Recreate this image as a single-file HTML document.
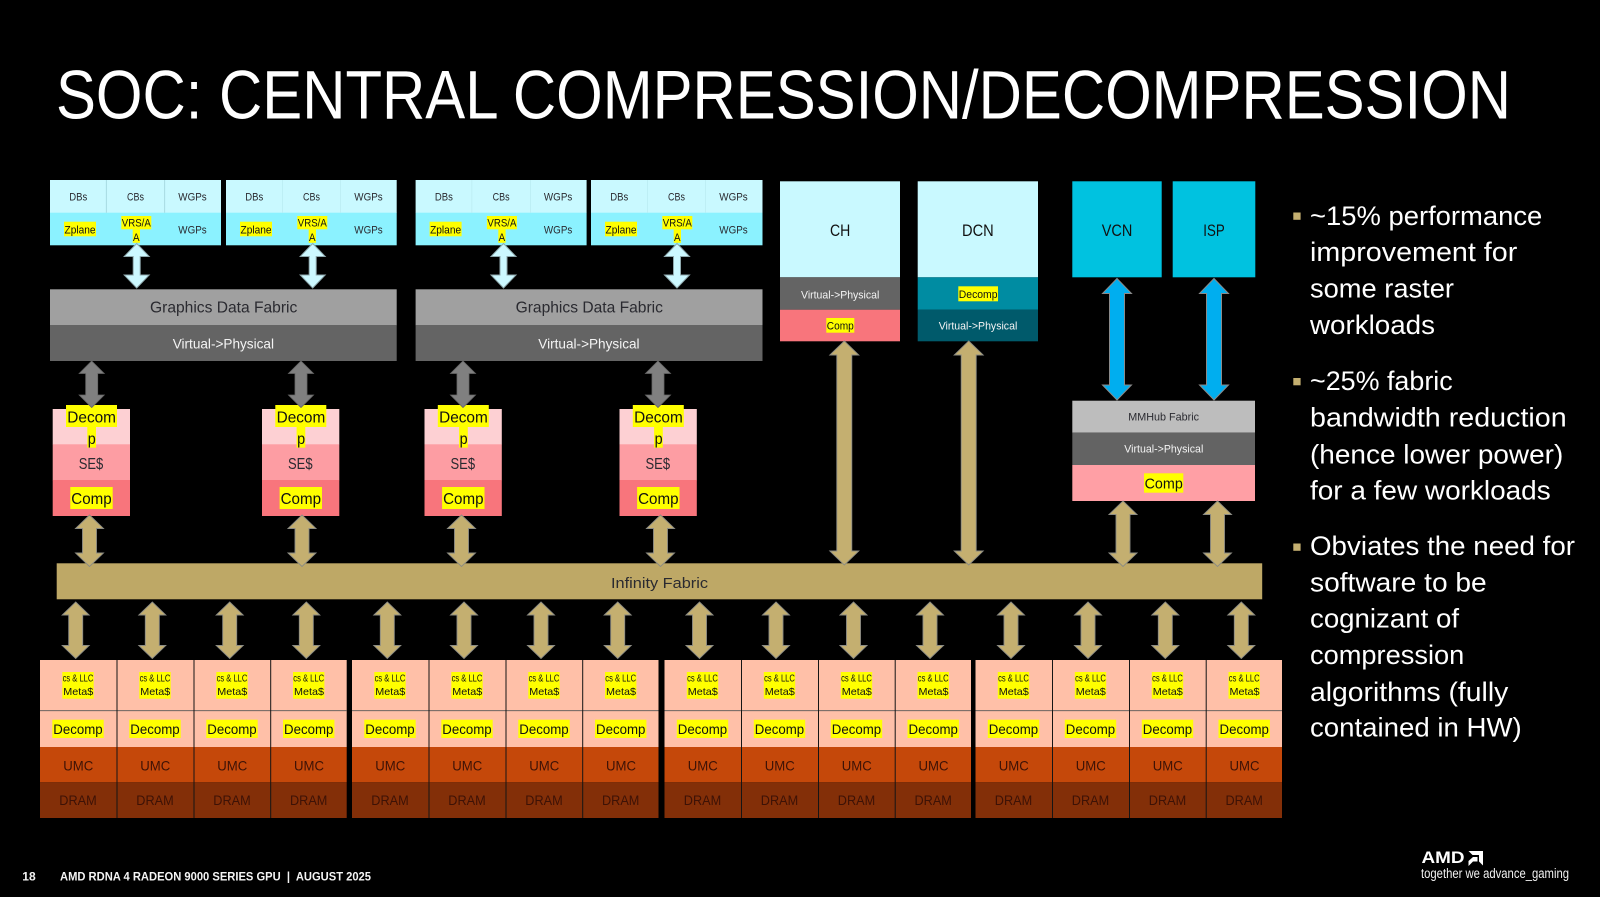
<!DOCTYPE html>
<html>
<head>
<meta charset="utf-8">
<title>SOC: Central Compression/Decompression</title>
<style>
html,body{margin:0;padding:0;background:#000;width:1600px;height:897px;overflow:hidden}
svg{display:block}
text{font-family:"Liberation Sans",sans-serif;white-space:pre}
.d{fill:#2a2a30}.w{fill:#f4f4f4}.k{fill:#111}
.s10{font-size:10.5px}.s11{font-size:11px}.s12{font-size:12px}.s14{font-size:14px}.s15{font-size:15px}.s16{font-size:16px}.s17{font-size:17px}
.b{font-size:27px;fill:#fff}
.u{fill:#3d1206;font-size:14px}
.sep{stroke:#151515;stroke-width:1}
</style>
</head>
<body>
<svg width="1600" height="897" viewBox="0 0 1600 897" xmlns="http://www.w3.org/2000/svg">
<defs>
<path id="aL" d="M0 243.500l12.500 13h-9V275h9L0 288l-12.500-13h9V256.500h-9z" fill="#CCF8FF" stroke="#8fa9ae" stroke-width="1"/>
<path id="aG" d="M0 361l12.500 12.500h-6.500V395h6.500L0 407.500l-12.500-12.500h6.500V373.500h-6.500z" fill="#808080" stroke="#666" stroke-width=".8"/>
<path id="aT" d="M0 515l14 13.500h-7V553h7L0 566.500l-14-13.500h7V528.500h-7z" fill="#C4AF70" stroke="#8c8c84" stroke-width=".9"/>
<path id="aB" d="M0 602l13.500 13h-6.500V645.500h6.500L0 658.500l-13.500-13h6.500V615h-6.500z" fill="#C4AF70" stroke="#8c8c84" stroke-width=".9"/>
<path id="aX" d="M0 341l14.500 14h-7V551h7L0 565l-14.500-14h7V355h-7z" fill="#C4AF70" stroke="#8c8c84" stroke-width=".9"/>
<path id="aU" d="M0 278.500l14.500 15h-7V385h7L0 400l-14.500-15h7V293.500h-7z" fill="#00AEEF" stroke="#8a8a8a" stroke-width="1"/>
<path id="aM" d="M0 501l14 13.500h-7V553h7L0 566.500l-14-13.500h7V514.500h-7z" fill="#C4AF70" stroke="#8c8c84" stroke-width=".9"/>
</defs>

<rect width="1600" height="897" fill="#000"/>

<text x="56" y="118.500" font-size="69" fill="#fff" textLength="1455" lengthAdjust="spacingAndGlyphs">SOC: CENTRAL COMPRESSION/DECOMPRESSION</text>

<!-- shader engine blocks -->
<g>
<rect x="50" y="180" width="171" height="33" fill="#C9F9FF"/><rect x="50" y="212.700" width="171" height="32.600" fill="#8BF2FF"/>
<path d="M106.300 180V212.700M164.700 180V212.700" stroke="#9fd3da" stroke-width=".8"/>
<text class="s11 d" x="69.300" y="200.700" textLength="18" lengthAdjust="spacingAndGlyphs">DBs</text>
<text class="s11 d" x="127" y="200.700" textLength="17" lengthAdjust="spacingAndGlyphs">CBs</text>
<text class="s11 d" x="178.300" y="200.700" textLength="28.400" lengthAdjust="spacingAndGlyphs">WGPs</text>
<rect x="64" y="221.700" width="32" height="14.600" fill="#ff0"/><text class="s11 k" x="64.500" y="233.300" textLength="31" lengthAdjust="spacingAndGlyphs">Zplane</text>
<rect x="121.300" y="216" width="30" height="13.300" fill="#ff0"/><text class="s11 k" x="121.800" y="226.700" textLength="29" lengthAdjust="spacingAndGlyphs">VRS/A</text>
<rect x="132.700" y="229.300" width="7.300" height="13.500" fill="#ff0"/><text class="s11 k" x="133" y="241" textLength="6.500" lengthAdjust="spacingAndGlyphs">A</text>
<text class="s11 d" x="178.300" y="233.300" textLength="28.400" lengthAdjust="spacingAndGlyphs">WGPs</text>
</g>
<g transform="translate(176 0)">
<rect x="50" y="180" width="170.700" height="33" fill="#C9F9FF"/><rect x="50" y="212.700" width="170.700" height="32.600" fill="#8BF2FF"/>
<path d="M106.300 180V212.700M164.700 180V212.700" stroke="#b6e8ee" stroke-width=".6"/>
<text class="s11 d" x="69.300" y="200.700" textLength="18" lengthAdjust="spacingAndGlyphs">DBs</text>
<text class="s11 d" x="127" y="200.700" textLength="17" lengthAdjust="spacingAndGlyphs">CBs</text>
<text class="s11 d" x="178.300" y="200.700" textLength="28.400" lengthAdjust="spacingAndGlyphs">WGPs</text>
<rect x="64" y="221.700" width="32" height="14.600" fill="#ff0"/><text class="s11 k" x="64.500" y="233.300" textLength="31" lengthAdjust="spacingAndGlyphs">Zplane</text>
<rect x="121.300" y="216" width="30" height="13.300" fill="#ff0"/><text class="s11 k" x="121.800" y="226.700" textLength="29" lengthAdjust="spacingAndGlyphs">VRS/A</text>
<rect x="132.700" y="229.300" width="7.300" height="13.500" fill="#ff0"/><text class="s11 k" x="133" y="241" textLength="6.500" lengthAdjust="spacingAndGlyphs">A</text>
<text class="s11 d" x="178.300" y="233.300" textLength="28.400" lengthAdjust="spacingAndGlyphs">WGPs</text>
</g>
<g transform="translate(365.600 0)">
<rect x="50" y="180" width="171" height="33" fill="#C9F9FF"/><rect x="50" y="212.700" width="171" height="32.600" fill="#8BF2FF"/>
<path d="M106.300 180V212.700M164.700 180V212.700" stroke="#b6e8ee" stroke-width=".6"/>
<text class="s11 d" x="69.300" y="200.700" textLength="18" lengthAdjust="spacingAndGlyphs">DBs</text>
<text class="s11 d" x="127" y="200.700" textLength="17" lengthAdjust="spacingAndGlyphs">CBs</text>
<text class="s11 d" x="178.300" y="200.700" textLength="28.400" lengthAdjust="spacingAndGlyphs">WGPs</text>
<rect x="64" y="221.700" width="32" height="14.600" fill="#ff0"/><text class="s11 k" x="64.500" y="233.300" textLength="31" lengthAdjust="spacingAndGlyphs">Zplane</text>
<rect x="121.300" y="216" width="30" height="13.300" fill="#ff0"/><text class="s11 k" x="121.800" y="226.700" textLength="29" lengthAdjust="spacingAndGlyphs">VRS/A</text>
<rect x="132.700" y="229.300" width="7.300" height="13.500" fill="#ff0"/><text class="s11 k" x="133" y="241" textLength="6.500" lengthAdjust="spacingAndGlyphs">A</text>
<text class="s11 d" x="178.300" y="233.300" textLength="28.400" lengthAdjust="spacingAndGlyphs">WGPs</text>
</g>
<g transform="translate(541 0)">
<rect x="50" y="180" width="171.500" height="33" fill="#C9F9FF"/><rect x="50" y="212.700" width="171.500" height="32.600" fill="#8BF2FF"/>
<path d="M106.300 180V212.700M164.700 180V212.700" stroke="#b6e8ee" stroke-width=".6"/>
<text class="s11 d" x="69.300" y="200.700" textLength="18" lengthAdjust="spacingAndGlyphs">DBs</text>
<text class="s11 d" x="127" y="200.700" textLength="17" lengthAdjust="spacingAndGlyphs">CBs</text>
<text class="s11 d" x="178.300" y="200.700" textLength="28.400" lengthAdjust="spacingAndGlyphs">WGPs</text>
<rect x="64" y="221.700" width="32" height="14.600" fill="#ff0"/><text class="s11 k" x="64.500" y="233.300" textLength="31" lengthAdjust="spacingAndGlyphs">Zplane</text>
<rect x="121.300" y="216" width="30" height="13.300" fill="#ff0"/><text class="s11 k" x="121.800" y="226.700" textLength="29" lengthAdjust="spacingAndGlyphs">VRS/A</text>
<rect x="132.700" y="229.300" width="7.300" height="13.500" fill="#ff0"/><text class="s11 k" x="133" y="241" textLength="6.500" lengthAdjust="spacingAndGlyphs">A</text>
<text class="s11 d" x="178.300" y="233.300" textLength="28.400" lengthAdjust="spacingAndGlyphs">WGPs</text>
</g>

<!-- graphics data fabrics -->
<g>
<rect x="50" y="289.300" width="346.700" height="36" fill="#A0A0A0"/><rect x="50" y="325" width="346.700" height="36" fill="#646464"/>
<text class="s16 d" x="150" y="312.700" textLength="147.300" lengthAdjust="spacingAndGlyphs">Graphics Data Fabric</text>
<text class="s14 w" x="172.700" y="348.300" textLength="101.300" lengthAdjust="spacingAndGlyphs">Virtual-&gt;Physical</text>
</g>
<g transform="translate(365.600 0)">
<rect x="50" y="289.300" width="346.900" height="36" fill="#A0A0A0"/><rect x="50" y="325" width="346.900" height="36" fill="#646464"/>
<text class="s16 d" x="150" y="312.700" textLength="147.300" lengthAdjust="spacingAndGlyphs">Graphics Data Fabric</text>
<text class="s14 w" x="172.700" y="348.300" textLength="101.300" lengthAdjust="spacingAndGlyphs">Virtual-&gt;Physical</text>
</g>

<!-- SE$ stacks -->
<g>
<rect x="52.700" y="409" width="77.300" height="35.500" fill="#FDD0D3"/><rect x="52.700" y="444.300" width="77.300" height="36" fill="#FD9DA3"/><rect x="52.700" y="480" width="77.300" height="36" fill="#F8757C"/>
<rect x="66" y="405" width="51" height="22" fill="#ff0"/><rect x="87.300" y="427" width="8.700" height="20.700" fill="#ff0"/>
<text class="s16 k" x="67.300" y="422.300" textLength="48.700" lengthAdjust="spacingAndGlyphs">Decom</text><text class="s16 k" x="87.800" y="444" textLength="8" lengthAdjust="spacingAndGlyphs">p</text>
<text class="s16 d" x="78.700" y="469" textLength="24.600" lengthAdjust="spacingAndGlyphs">SE$</text>
<rect x="70.300" y="487" width="42.400" height="22" fill="#ff0"/><text class="s16 k" x="71.300" y="504" textLength="40.400" lengthAdjust="spacingAndGlyphs">Comp</text>
</g>
<g transform="translate(209.300 0)">
<rect x="52.700" y="409" width="77.300" height="35.500" fill="#FDD0D3"/><rect x="52.700" y="444.300" width="77.300" height="36" fill="#FD9DA3"/><rect x="52.700" y="480" width="77.300" height="36" fill="#F8757C"/>
<rect x="66" y="405" width="51" height="22" fill="#ff0"/><rect x="87.300" y="427" width="8.700" height="20.700" fill="#ff0"/>
<text class="s16 k" x="67.300" y="422.300" textLength="48.700" lengthAdjust="spacingAndGlyphs">Decom</text><text class="s16 k" x="87.800" y="444" textLength="8" lengthAdjust="spacingAndGlyphs">p</text>
<text class="s16 d" x="78.700" y="469" textLength="24.600" lengthAdjust="spacingAndGlyphs">SE$</text>
<rect x="70.300" y="487" width="42.400" height="22" fill="#ff0"/><text class="s16 k" x="71.300" y="504" textLength="40.400" lengthAdjust="spacingAndGlyphs">Comp</text>
</g>
<g transform="translate(371.800 0)">
<rect x="52.700" y="409" width="77.300" height="35.500" fill="#FDD0D3"/><rect x="52.700" y="444.300" width="77.300" height="36" fill="#FD9DA3"/><rect x="52.700" y="480" width="77.300" height="36" fill="#F8757C"/>
<rect x="66" y="405" width="51" height="22" fill="#ff0"/><rect x="87.300" y="427" width="8.700" height="20.700" fill="#ff0"/>
<text class="s16 k" x="67.300" y="422.300" textLength="48.700" lengthAdjust="spacingAndGlyphs">Decom</text><text class="s16 k" x="87.800" y="444" textLength="8" lengthAdjust="spacingAndGlyphs">p</text>
<text class="s16 d" x="78.700" y="469" textLength="24.600" lengthAdjust="spacingAndGlyphs">SE$</text>
<rect x="70.300" y="487" width="42.400" height="22" fill="#ff0"/><text class="s16 k" x="71.300" y="504" textLength="40.400" lengthAdjust="spacingAndGlyphs">Comp</text>
</g>
<g transform="translate(566.800 0)">
<rect x="52.700" y="409" width="77.300" height="35.500" fill="#FDD0D3"/><rect x="52.700" y="444.300" width="77.300" height="36" fill="#FD9DA3"/><rect x="52.700" y="480" width="77.300" height="36" fill="#F8757C"/>
<rect x="66" y="405" width="51" height="22" fill="#ff0"/><rect x="87.300" y="427" width="8.700" height="20.700" fill="#ff0"/>
<text class="s16 k" x="67.300" y="422.300" textLength="48.700" lengthAdjust="spacingAndGlyphs">Decom</text><text class="s16 k" x="87.800" y="444" textLength="8" lengthAdjust="spacingAndGlyphs">p</text>
<text class="s16 d" x="78.700" y="469" textLength="24.600" lengthAdjust="spacingAndGlyphs">SE$</text>
<rect x="70.300" y="487" width="42.400" height="22" fill="#ff0"/><text class="s16 k" x="71.300" y="504" textLength="40.400" lengthAdjust="spacingAndGlyphs">Comp</text>
</g>

<!-- CH -->
<rect x="780" y="181.300" width="120" height="96" fill="#C9F9FF"/>
<rect x="780" y="277.300" width="120" height="32.500" fill="#646464"/>
<rect x="780" y="309.700" width="120" height="31.600" fill="#F8757C"/>
<text class="s17 k" x="830" y="236" textLength="20.300" lengthAdjust="spacingAndGlyphs">CH</text>
<text class="s11 w" x="801" y="298.300" textLength="78.300" lengthAdjust="spacingAndGlyphs">Virtual-&gt;Physical</text>
<rect x="826.300" y="318" width="28" height="14.700" fill="#ff0"/><text class="s11 k" x="826.800" y="329.300" textLength="27" lengthAdjust="spacingAndGlyphs">Comp</text>
<!-- DCN -->
<rect x="917.700" y="181.300" width="120.300" height="96" fill="#C9F9FF"/>
<rect x="917.700" y="277.300" width="120.300" height="32.500" fill="#008CA2"/>
<rect x="917.700" y="309.700" width="120.300" height="31.600" fill="#005A6B"/>
<text class="s17 k" x="962" y="236" textLength="31.700" lengthAdjust="spacingAndGlyphs">DCN</text>
<rect x="958.300" y="286.300" width="39.700" height="15" fill="#ff0"/><text class="s11 k" x="958.800" y="298" textLength="38.700" lengthAdjust="spacingAndGlyphs">Decomp</text>
<text class="s11 w" x="938.700" y="329.300" textLength="78.600" lengthAdjust="spacingAndGlyphs">Virtual-&gt;Physical</text>
<!-- VCN ISP -->
<rect x="1072.300" y="181.300" width="89.400" height="96" fill="#00C2E0"/>
<rect x="1172.700" y="181.300" width="82.600" height="96" fill="#00C2E0"/>
<text class="s17 k" x="1101.700" y="236" textLength="30.600" lengthAdjust="spacingAndGlyphs">VCN</text>
<text class="s17 k" x="1203.300" y="236" textLength="21.400" lengthAdjust="spacingAndGlyphs">ISP</text>
<!-- MMHub -->
<rect x="1072.300" y="400.700" width="182.700" height="32" fill="#BDBDBD"/>
<rect x="1072.300" y="432.700" width="182.700" height="32.300" fill="#636363"/>
<rect x="1072.300" y="465" width="182.700" height="36" fill="#FF9FA5"/>
<text class="s11 d" x="1128.300" y="420.700" textLength="70.700" lengthAdjust="spacingAndGlyphs">MMHub Fabric</text>
<text class="s11 w" x="1124.300" y="452.700" textLength="79" lengthAdjust="spacingAndGlyphs">Virtual-&gt;Physical</text>
<rect x="1144" y="473.300" width="39.300" height="19.400" fill="#ff0"/><text class="s15 k" x="1144.600" y="488.300" textLength="38.200" lengthAdjust="spacingAndGlyphs">Comp</text>

<!-- Infinity Fabric -->
<rect x="56.700" y="563.300" width="1205.500" height="36" fill="#BEA866"/>
<text class="s15 d" x="611" y="588" textLength="97" lengthAdjust="spacingAndGlyphs">Infinity Fabric</text>

<!-- memory column backgrounds -->
<g>
<rect x="40" y="660" width="306.700" height="87" fill="#FFC0A8"/><rect x="40" y="747" width="306.700" height="35.300" fill="#C5480A"/><rect x="40" y="782.300" width="306.700" height="35.700" fill="#832F08"/>
<rect x="352" y="660" width="306.500" height="87" fill="#FFC0A8"/><rect x="352" y="747" width="306.500" height="35.300" fill="#C5480A"/><rect x="352" y="782.300" width="306.500" height="35.700" fill="#832F08"/>
<rect x="664.500" y="660" width="306.500" height="87" fill="#FFC0A8"/><rect x="664.500" y="747" width="306.500" height="35.300" fill="#C5480A"/><rect x="664.500" y="782.300" width="306.500" height="35.700" fill="#832F08"/>
<rect x="975.500" y="660" width="306.500" height="87" fill="#FFC0A8"/><rect x="975.500" y="747" width="306.500" height="35.300" fill="#C5480A"/><rect x="975.500" y="782.300" width="306.500" height="35.700" fill="#832F08"/>
<path d="M40 710.700H346.700M352 710.700H658.500M664.500 710.700H971M975.500 710.700H1282" stroke="#555" stroke-width=".8"/>
<path class="sep" d="M117 660V818M194 660V818M270.700 660V818M429 660V818M506 660V818M582.700 660V818M741.500 660V818M818.500 660V818M895.200 660V818M1052.500 660V818M1129.500 660V818M1206.200 660V818"/>
</g>

<!-- memory column labels -->
<g transform="translate(40 660)"><rect x="22.300" y="12" width="31.400" height="26.700" fill="#ff0"/><text class="s10 k" x="22.600" y="21.700" textLength="30.800" lengthAdjust="spacingAndGlyphs">cs &amp; LLC</text><text class="s10 k" x="23.300" y="35" textLength="30" lengthAdjust="spacingAndGlyphs">Meta$</text><rect x="12.300" y="59.700" width="51.400" height="18.300" fill="#ff0"/><text class="s14 k" x="13.300" y="74" textLength="49.400" lengthAdjust="spacingAndGlyphs">Decomp</text><text class="u" x="23.300" y="110.700" textLength="30" lengthAdjust="spacingAndGlyphs">UMC</text><text class="u" x="19.300" y="145" textLength="37.400" lengthAdjust="spacingAndGlyphs">DRAM</text></g>
<g transform="translate(117 660)"><rect x="22.300" y="12" width="31.400" height="26.700" fill="#ff0"/><text class="s10 k" x="22.600" y="21.700" textLength="30.800" lengthAdjust="spacingAndGlyphs">cs &amp; LLC</text><text class="s10 k" x="23.300" y="35" textLength="30" lengthAdjust="spacingAndGlyphs">Meta$</text><rect x="12.300" y="59.700" width="51.400" height="18.300" fill="#ff0"/><text class="s14 k" x="13.300" y="74" textLength="49.400" lengthAdjust="spacingAndGlyphs">Decomp</text><text class="u" x="23.300" y="110.700" textLength="30" lengthAdjust="spacingAndGlyphs">UMC</text><text class="u" x="19.300" y="145" textLength="37.400" lengthAdjust="spacingAndGlyphs">DRAM</text></g>
<g transform="translate(194 660)"><rect x="22.300" y="12" width="31.400" height="26.700" fill="#ff0"/><text class="s10 k" x="22.600" y="21.700" textLength="30.800" lengthAdjust="spacingAndGlyphs">cs &amp; LLC</text><text class="s10 k" x="23.300" y="35" textLength="30" lengthAdjust="spacingAndGlyphs">Meta$</text><rect x="12.300" y="59.700" width="51.400" height="18.300" fill="#ff0"/><text class="s14 k" x="13.300" y="74" textLength="49.400" lengthAdjust="spacingAndGlyphs">Decomp</text><text class="u" x="23.300" y="110.700" textLength="30" lengthAdjust="spacingAndGlyphs">UMC</text><text class="u" x="19.300" y="145" textLength="37.400" lengthAdjust="spacingAndGlyphs">DRAM</text></g>
<g transform="translate(270.700 660)"><rect x="22.300" y="12" width="31.400" height="26.700" fill="#ff0"/><text class="s10 k" x="22.600" y="21.700" textLength="30.800" lengthAdjust="spacingAndGlyphs">cs &amp; LLC</text><text class="s10 k" x="23.300" y="35" textLength="30" lengthAdjust="spacingAndGlyphs">Meta$</text><rect x="12.300" y="59.700" width="51.400" height="18.300" fill="#ff0"/><text class="s14 k" x="13.300" y="74" textLength="49.400" lengthAdjust="spacingAndGlyphs">Decomp</text><text class="u" x="23.300" y="110.700" textLength="30" lengthAdjust="spacingAndGlyphs">UMC</text><text class="u" x="19.300" y="145" textLength="37.400" lengthAdjust="spacingAndGlyphs">DRAM</text></g>

<g transform="translate(352 660)"><rect x="22.300" y="12" width="31.400" height="26.700" fill="#ff0"/><text class="s10 k" x="22.600" y="21.700" textLength="30.800" lengthAdjust="spacingAndGlyphs">cs &amp; LLC</text><text class="s10 k" x="23.300" y="35" textLength="30" lengthAdjust="spacingAndGlyphs">Meta$</text><rect x="12.300" y="59.700" width="51.400" height="18.300" fill="#ff0"/><text class="s14 k" x="13.300" y="74" textLength="49.400" lengthAdjust="spacingAndGlyphs">Decomp</text><text class="u" x="23.300" y="110.700" textLength="30" lengthAdjust="spacingAndGlyphs">UMC</text><text class="u" x="19.300" y="145" textLength="37.400" lengthAdjust="spacingAndGlyphs">DRAM</text></g>
<g transform="translate(429 660)"><rect x="22.300" y="12" width="31.400" height="26.700" fill="#ff0"/><text class="s10 k" x="22.600" y="21.700" textLength="30.800" lengthAdjust="spacingAndGlyphs">cs &amp; LLC</text><text class="s10 k" x="23.300" y="35" textLength="30" lengthAdjust="spacingAndGlyphs">Meta$</text><rect x="12.300" y="59.700" width="51.400" height="18.300" fill="#ff0"/><text class="s14 k" x="13.300" y="74" textLength="49.400" lengthAdjust="spacingAndGlyphs">Decomp</text><text class="u" x="23.300" y="110.700" textLength="30" lengthAdjust="spacingAndGlyphs">UMC</text><text class="u" x="19.300" y="145" textLength="37.400" lengthAdjust="spacingAndGlyphs">DRAM</text></g>
<g transform="translate(506 660)"><rect x="22.300" y="12" width="31.400" height="26.700" fill="#ff0"/><text class="s10 k" x="22.600" y="21.700" textLength="30.800" lengthAdjust="spacingAndGlyphs">cs &amp; LLC</text><text class="s10 k" x="23.300" y="35" textLength="30" lengthAdjust="spacingAndGlyphs">Meta$</text><rect x="12.300" y="59.700" width="51.400" height="18.300" fill="#ff0"/><text class="s14 k" x="13.300" y="74" textLength="49.400" lengthAdjust="spacingAndGlyphs">Decomp</text><text class="u" x="23.300" y="110.700" textLength="30" lengthAdjust="spacingAndGlyphs">UMC</text><text class="u" x="19.300" y="145" textLength="37.400" lengthAdjust="spacingAndGlyphs">DRAM</text></g>
<g transform="translate(582.700 660)"><rect x="22.300" y="12" width="31.400" height="26.700" fill="#ff0"/><text class="s10 k" x="22.600" y="21.700" textLength="30.800" lengthAdjust="spacingAndGlyphs">cs &amp; LLC</text><text class="s10 k" x="23.300" y="35" textLength="30" lengthAdjust="spacingAndGlyphs">Meta$</text><rect x="12.300" y="59.700" width="51.400" height="18.300" fill="#ff0"/><text class="s14 k" x="13.300" y="74" textLength="49.400" lengthAdjust="spacingAndGlyphs">Decomp</text><text class="u" x="23.300" y="110.700" textLength="30" lengthAdjust="spacingAndGlyphs">UMC</text><text class="u" x="19.300" y="145" textLength="37.400" lengthAdjust="spacingAndGlyphs">DRAM</text></g>

<g transform="translate(664.500 660)"><rect x="22.300" y="12" width="31.400" height="26.700" fill="#ff0"/><text class="s10 k" x="22.600" y="21.700" textLength="30.800" lengthAdjust="spacingAndGlyphs">cs &amp; LLC</text><text class="s10 k" x="23.300" y="35" textLength="30" lengthAdjust="spacingAndGlyphs">Meta$</text><rect x="12.300" y="59.700" width="51.400" height="18.300" fill="#ff0"/><text class="s14 k" x="13.300" y="74" textLength="49.400" lengthAdjust="spacingAndGlyphs">Decomp</text><text class="u" x="23.300" y="110.700" textLength="30" lengthAdjust="spacingAndGlyphs">UMC</text><text class="u" x="19.300" y="145" textLength="37.400" lengthAdjust="spacingAndGlyphs">DRAM</text></g>
<g transform="translate(741.500 660)"><rect x="22.300" y="12" width="31.400" height="26.700" fill="#ff0"/><text class="s10 k" x="22.600" y="21.700" textLength="30.800" lengthAdjust="spacingAndGlyphs">cs &amp; LLC</text><text class="s10 k" x="23.300" y="35" textLength="30" lengthAdjust="spacingAndGlyphs">Meta$</text><rect x="12.300" y="59.700" width="51.400" height="18.300" fill="#ff0"/><text class="s14 k" x="13.300" y="74" textLength="49.400" lengthAdjust="spacingAndGlyphs">Decomp</text><text class="u" x="23.300" y="110.700" textLength="30" lengthAdjust="spacingAndGlyphs">UMC</text><text class="u" x="19.300" y="145" textLength="37.400" lengthAdjust="spacingAndGlyphs">DRAM</text></g>
<g transform="translate(818.500 660)"><rect x="22.300" y="12" width="31.400" height="26.700" fill="#ff0"/><text class="s10 k" x="22.600" y="21.700" textLength="30.800" lengthAdjust="spacingAndGlyphs">cs &amp; LLC</text><text class="s10 k" x="23.300" y="35" textLength="30" lengthAdjust="spacingAndGlyphs">Meta$</text><rect x="12.300" y="59.700" width="51.400" height="18.300" fill="#ff0"/><text class="s14 k" x="13.300" y="74" textLength="49.400" lengthAdjust="spacingAndGlyphs">Decomp</text><text class="u" x="23.300" y="110.700" textLength="30" lengthAdjust="spacingAndGlyphs">UMC</text><text class="u" x="19.300" y="145" textLength="37.400" lengthAdjust="spacingAndGlyphs">DRAM</text></g>
<g transform="translate(895.200 660)"><rect x="22.300" y="12" width="31.400" height="26.700" fill="#ff0"/><text class="s10 k" x="22.600" y="21.700" textLength="30.800" lengthAdjust="spacingAndGlyphs">cs &amp; LLC</text><text class="s10 k" x="23.300" y="35" textLength="30" lengthAdjust="spacingAndGlyphs">Meta$</text><rect x="12.300" y="59.700" width="51.400" height="18.300" fill="#ff0"/><text class="s14 k" x="13.300" y="74" textLength="49.400" lengthAdjust="spacingAndGlyphs">Decomp</text><text class="u" x="23.300" y="110.700" textLength="30" lengthAdjust="spacingAndGlyphs">UMC</text><text class="u" x="19.300" y="145" textLength="37.400" lengthAdjust="spacingAndGlyphs">DRAM</text></g>

<g transform="translate(975.500 660)"><rect x="22.300" y="12" width="31.400" height="26.700" fill="#ff0"/><text class="s10 k" x="22.600" y="21.700" textLength="30.800" lengthAdjust="spacingAndGlyphs">cs &amp; LLC</text><text class="s10 k" x="23.300" y="35" textLength="30" lengthAdjust="spacingAndGlyphs">Meta$</text><rect x="12.300" y="59.700" width="51.400" height="18.300" fill="#ff0"/><text class="s14 k" x="13.300" y="74" textLength="49.400" lengthAdjust="spacingAndGlyphs">Decomp</text><text class="u" x="23.300" y="110.700" textLength="30" lengthAdjust="spacingAndGlyphs">UMC</text><text class="u" x="19.300" y="145" textLength="37.400" lengthAdjust="spacingAndGlyphs">DRAM</text></g>
<g transform="translate(1052.500 660)"><rect x="22.300" y="12" width="31.400" height="26.700" fill="#ff0"/><text class="s10 k" x="22.600" y="21.700" textLength="30.800" lengthAdjust="spacingAndGlyphs">cs &amp; LLC</text><text class="s10 k" x="23.300" y="35" textLength="30" lengthAdjust="spacingAndGlyphs">Meta$</text><rect x="12.300" y="59.700" width="51.400" height="18.300" fill="#ff0"/><text class="s14 k" x="13.300" y="74" textLength="49.400" lengthAdjust="spacingAndGlyphs">Decomp</text><text class="u" x="23.300" y="110.700" textLength="30" lengthAdjust="spacingAndGlyphs">UMC</text><text class="u" x="19.300" y="145" textLength="37.400" lengthAdjust="spacingAndGlyphs">DRAM</text></g>
<g transform="translate(1129.500 660)"><rect x="22.300" y="12" width="31.400" height="26.700" fill="#ff0"/><text class="s10 k" x="22.600" y="21.700" textLength="30.800" lengthAdjust="spacingAndGlyphs">cs &amp; LLC</text><text class="s10 k" x="23.300" y="35" textLength="30" lengthAdjust="spacingAndGlyphs">Meta$</text><rect x="12.300" y="59.700" width="51.400" height="18.300" fill="#ff0"/><text class="s14 k" x="13.300" y="74" textLength="49.400" lengthAdjust="spacingAndGlyphs">Decomp</text><text class="u" x="23.300" y="110.700" textLength="30" lengthAdjust="spacingAndGlyphs">UMC</text><text class="u" x="19.300" y="145" textLength="37.400" lengthAdjust="spacingAndGlyphs">DRAM</text></g>
<g transform="translate(1206.200 660)"><rect x="22.300" y="12" width="31.400" height="26.700" fill="#ff0"/><text class="s10 k" x="22.600" y="21.700" textLength="30.800" lengthAdjust="spacingAndGlyphs">cs &amp; LLC</text><text class="s10 k" x="23.300" y="35" textLength="30" lengthAdjust="spacingAndGlyphs">Meta$</text><rect x="12.300" y="59.700" width="51.400" height="18.300" fill="#ff0"/><text class="s14 k" x="13.300" y="74" textLength="49.400" lengthAdjust="spacingAndGlyphs">Decomp</text><text class="u" x="23.300" y="110.700" textLength="30" lengthAdjust="spacingAndGlyphs">UMC</text><text class="u" x="19.300" y="145" textLength="37.400" lengthAdjust="spacingAndGlyphs">DRAM</text></g>

<!-- arrows -->
<use href="#aL" x="136.700"/><use href="#aL" x="312.700"/><use href="#aL" x="503.500"/><use href="#aL" x="677"/>
<use href="#aG" x="91.700"/><use href="#aG" x="301"/><use href="#aG" x="463"/><use href="#aG" x="658"/>
<use href="#aT" x="89.500"/><use href="#aT" x="302"/><use href="#aT" x="461.500"/><use href="#aT" x="660.500"/>
<use href="#aX" x="844.300"/><use href="#aX" x="968.700"/>
<use href="#aU" x="1117"/><use href="#aU" x="1214"/>
<use href="#aM" x="1123"/><use href="#aM" x="1217.500"/>
<use href="#aB" x="75.700"/><use href="#aB" x="152.300"/><use href="#aB" x="229.700"/><use href="#aB" x="306.300"/>
<use href="#aB" x="387.300"/><use href="#aB" x="464"/><use href="#aB" x="541"/><use href="#aB" x="617.700"/>
<use href="#aB" x="699.500"/><use href="#aB" x="776"/><use href="#aB" x="853.500"/><use href="#aB" x="930"/>
<use href="#aB" x="1011"/><use href="#aB" x="1088"/><use href="#aB" x="1165.300"/><use href="#aB" x="1241.300"/>

<!-- bullets -->
<rect x="1293.300" y="212.500" width="7.300" height="7.300" fill="#C4AF70"/>
<text class="b" x="1310" y="225" textLength="232.300" lengthAdjust="spacingAndGlyphs">~15% performance</text>
<text class="b" x="1310" y="261" textLength="207.300" lengthAdjust="spacingAndGlyphs">improvement for</text>
<text class="b" x="1310" y="297.700" textLength="144" lengthAdjust="spacingAndGlyphs">some raster</text>
<text class="b" x="1310" y="334" textLength="125" lengthAdjust="spacingAndGlyphs">workloads</text>
<rect x="1293.300" y="378" width="7.300" height="7.300" fill="#C4AF70"/>
<text class="b" x="1310" y="390" textLength="142.700" lengthAdjust="spacingAndGlyphs">~25% fabric</text>
<text class="b" x="1310" y="426.700" textLength="256.700" lengthAdjust="spacingAndGlyphs">bandwidth reduction</text>
<text class="b" x="1310" y="463.300" textLength="253.300" lengthAdjust="spacingAndGlyphs">(hence lower power)</text>
<text class="b" x="1310" y="499.300" textLength="240.700" lengthAdjust="spacingAndGlyphs">for a few workloads</text>
<rect x="1293.300" y="543.500" width="7.300" height="7.300" fill="#C4AF70"/>
<text class="b" x="1310" y="555" textLength="265" lengthAdjust="spacingAndGlyphs">Obviates the need for</text>
<text class="b" x="1310" y="591.700" textLength="176.700" lengthAdjust="spacingAndGlyphs">software to be</text>
<text class="b" x="1310" y="627.700" textLength="149" lengthAdjust="spacingAndGlyphs">cognizant of</text>
<text class="b" x="1310" y="664" textLength="154.300" lengthAdjust="spacingAndGlyphs">compression</text>
<text class="b" x="1310" y="701" textLength="198.300" lengthAdjust="spacingAndGlyphs">algorithms (fully</text>
<text class="b" x="1310" y="736.700" textLength="211.700" lengthAdjust="spacingAndGlyphs">contained in HW)</text>

<!-- footer -->
<text class="s12 w" x="22.300" y="880.700" textLength="13.400" lengthAdjust="spacingAndGlyphs" font-weight="bold">18</text>
<text class="s12 w" x="60" y="880.700" textLength="311" lengthAdjust="spacingAndGlyphs" font-weight="bold">AMD RDNA 4 RADEON 9000 SERIES GPU  |  AUGUST 2025</text>
<text x="1421.500" y="862.800" font-size="17" font-weight="bold" fill="#fff" textLength="43" lengthAdjust="spacingAndGlyphs">AMD</text>
<path d="M1468.500 851h14.500v14.500l-4-4v-6.500h-6.500zM1473 857h4.500v4.500h-4.500l-4.500 4.500v-5z" fill="#fff"/>
<text x="1421" y="878" font-size="13.500" fill="#f2f2f2" textLength="148" lengthAdjust="spacingAndGlyphs">together we advance_gaming</text>
</svg>
</body>
</html>
